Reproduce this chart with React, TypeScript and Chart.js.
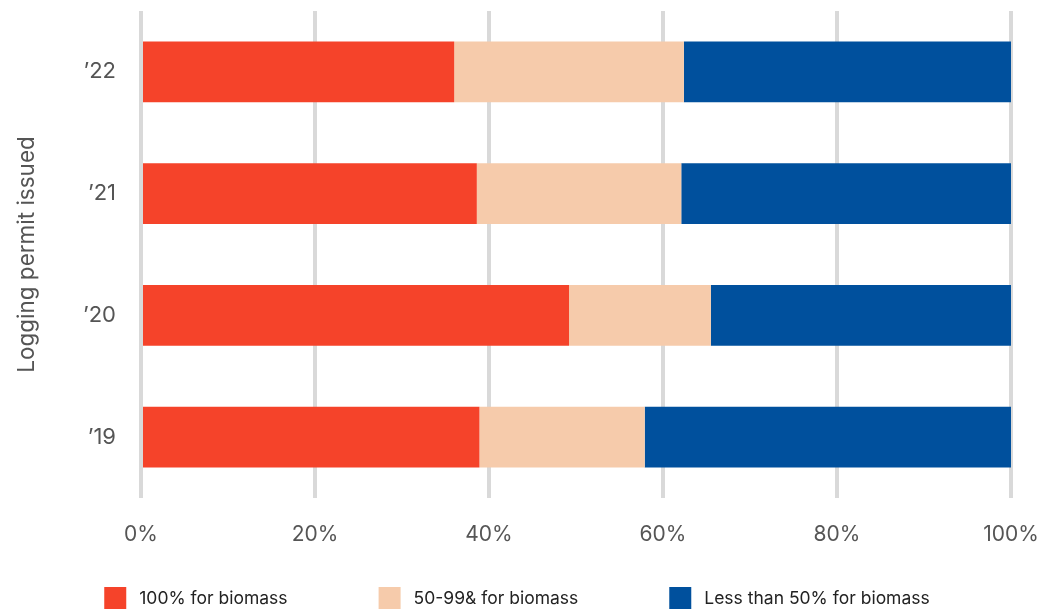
import React, { useEffect, useRef } from "react";
import { Chart, registerables } from "chart.js";

Chart.register(...registerables);

// Permit years, top to bottom
const years = ["\u201922", "\u201921", "\u201920", "\u201919"];

// Share of each permit year's logging going to biomass (percent)
const full = [36.0, 38.6, 49.2, 38.9];
const partial = [26.4, 23.5, 16.3, 19.0];
const minor = [37.6, 37.9, 34.5, 42.1];

const seriesNames = ["100% for biomass", "50-99& for biomass", "Less than 50% for biomass"];
const seriesColors = ["#F5432A", "#F6CBAB", "#00509D"];

const xTicks = [0, 20, 40, 60, 80, 100];

const FONT = "Inter, 'Noto Sans', sans-serif";

// Bottom legend: square swatches followed by the dataset name, in one centred row
const bottomLegend = {
  id: "bottomLegend",
  afterDraw(chart: any) {
    const ctx = chart.ctx as CanvasRenderingContext2D;
    const box = 22;
    const textGap = 13;
    const itemGap = 91;
    const top = chart.height - 46;
    ctx.save();
    ctx.font = `17.5px ${FONT}`;
    const items = chart.data.datasets.map((ds: any) => ({
      label: ds.label as string,
      color: ds.backgroundColor as string,
      w: ctx.measureText(ds.label).width,
    }));
    const total =
      items.reduce((s: number, it: any) => s + box + textGap + it.w, 0) + itemGap * (items.length - 1);
    let x = chart.width / 2 - 12 - total / 2;
    ctx.textBaseline = "middle";
    ctx.textAlign = "left";
    for (const it of items) {
      ctx.fillStyle = it.color;
      ctx.fillRect(x, top, box, box + 10);
      ctx.fillStyle = "#222";
      ctx.fillText(it.label, x + box + textGap, top + 12);
      x += box + textGap + it.w + itemGap;
    }
    ctx.restore();
  },
};

export default function App() {
  const canvasRef = useRef<HTMLCanvasElement | null>(null);

  useEffect(() => {
    if (!canvasRef.current) return;
    const chart = new Chart(canvasRef.current, {
      type: "bar",
      data: {
        labels: years,
        datasets: [full, partial, minor].map((d, i) => ({
          label: seriesNames[i],
          data: d,
          backgroundColor: seriesColors[i],
          borderWidth: 0,
          categoryPercentage: 1,
          barPercentage: 0.5,
        })),
      },
      options: {
        indexAxis: "y",
        animation: false,
        responsive: true,
        maintainAspectRatio: false,
        layout: { padding: { top: 3, right: 39, left: 0, bottom: 57 } },
        scales: {
          x: {
            stacked: true,
            min: 0,
            max: 100,
            afterBuildTicks: (scale: any) => {
              scale.ticks = xTicks.map((v) => ({ value: v }));
            },
            afterFit: (scale: any) => {
              scale.height = 78;
              scale.paddingLeft = 0;
              scale.paddingRight = 0;
            },
            grid: { display: true, color: "#d9d9d9", lineWidth: 4, drawTicks: false },
            border: { display: false },
            ticks: {
              padding: 24,
              color: "#555",
              font: { family: FONT, size: 21 },
              callback: (v: any) => `${v}%`,
            },
          },
          y: {
            stacked: true,
            afterFit: (scale: any) => {
              scale.width = 133;
              scale.paddingTop = 0;
              scale.paddingBottom = 0;
            },
            grid: { display: false, drawTicks: false },
            border: { display: false },
            ticks: {
              padding: 25,
              color: "#555",
              font: { family: FONT, size: 22 },
            },
            title: {
              display: true,
              text: "Logging permit issued",
              color: "#555",
              font: { family: FONT, size: 22.5, weight: "normal" },
              padding: { top: 6, bottom: 0 },
            },
          },
        },
        plugins: {
          legend: { display: false },
          tooltip: { enabled: false },
        },
      },
      plugins: [bottomLegend],
    });
    return () => chart.destroy();
  }, []);

  return (
    <div style={{ width: 1042, height: 601, overflow: "hidden" }}>
      <div style={{ position: "relative", width: 1042, height: 625 }}>
        <canvas ref={canvasRef} />
      </div>
    </div>
  );
}
